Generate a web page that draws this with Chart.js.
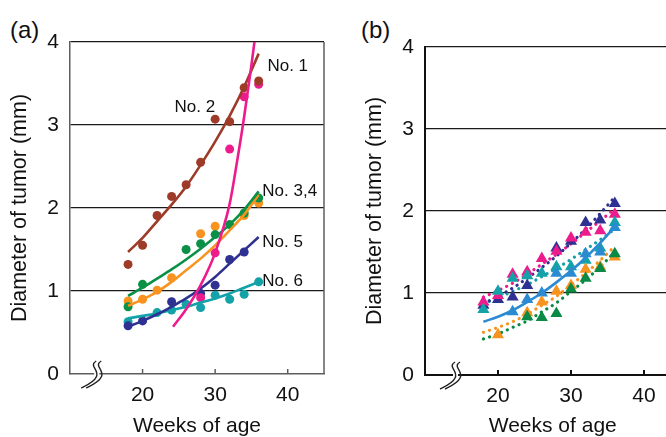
<!DOCTYPE html>
<html>
<head>
<meta charset="utf-8">
<script src="https://cdn.jsdelivr.net/npm/chart.js@4.4.0/dist/chart.umd.min.js"></script>
<style>
  html, body { margin: 0; padding: 0; background: #fff; width: 666px; height: 437px; overflow: hidden; position: relative; }
  canvas { position: absolute; top: 0; }
  #ca { left: 0; }
  #cb { left: 355px; }
  .tag { position: absolute; top: 16px; font: 24px "Liberation Sans", Arial, sans-serif; color: #111; }
</style>
</head>
<body>
<div class="tag" style="left:10px">(a)</div>
<div class="tag" style="left:361px">(b)</div>
<canvas id="ca" width="340" height="437"></canvas>
<canvas id="cb" width="345" height="437"></canvas>
<script>
// weeks of age at which tumors were measured
const weeks = [18, 20, 22, 24, 26, 28, 30, 32, 34, 36];
const xTicks = [20, 30, 40];
const yTicks = [0, 1, 2, 3, 4];

// (a) measured diameters (mm), null = no visible dot
const no1 = [null, null, null, null, null, 0.92, 1.46, 2.71, 3.34, 3.49];
const no2 = [1.32, 1.55, 1.91, 2.14, 2.28, 2.55, 3.07, 3.04, 3.45, 3.53];
const no3 = [0.81, 1.08, null, null, 1.50, 1.57, 1.68, 1.80, 1.94, 2.12];
const no4 = [0.88, 0.90, 1.01, 1.16, null, 1.69, 1.78, null, 1.91, 2.06];
const no5 = [0.58, 0.64, null, 0.87, null, 0.97, 1.07, 1.38, 1.47, null];
const no6 = [0.63, null, 0.74, 0.77, 0.84, 0.80, 0.95, 0.90, 0.96, 1.11];

// (a) fitted curves
const fit1Weeks = [24.2, 26, 28, 30, 32, 33, 34, 35, 36];
const fit1 = [0.57, 0.78, 1.07, 1.46, 2.05, 2.55, 3.1, 3.72, 4.4];
const fit2 = [1.47, 1.64, 1.84, 2.04, 2.26, 2.52, 2.80, 3.11, 3.46, 3.86];
const fit3 = [0.94, 1.04, 1.15, 1.26, 1.38, 1.51, 1.65, 1.80, 1.98, 2.20];
const fit4 = [0.82, 0.90, 0.99, 1.11, 1.25, 1.39, 1.55, 1.73, 1.92, 2.16];
const fit5 = [0.57, 0.64, 0.72, 0.81, 0.91, 1.03, 1.17, 1.33, 1.49, 1.65];
const fit6 = [0.67, 0.70, 0.73, 0.77, 0.81, 0.86, 0.91, 0.97, 1.04, 1.11];

// (b) measured diameters (mm)
const bNavy = [0.85, 0.92, 0.95, 1.09, null, 1.55, 1.63, 1.86, 1.89, 2.09];
const bPink = [0.89, 0.97, 1.23, 1.26, 1.42, 1.51, 1.67, 1.74, 1.76, 1.96];
const bTeal = [0.80, 1.02, 1.18, 1.21, 1.24, 1.32, 1.32, 1.40, 1.55, 1.86];
const bBlue = [null, null, 0.77, 0.92, 1.00, 1.24, 1.24, 1.48, 1.50, 1.80];
const bOrange = [null, 0.49, null, 0.76, 0.89, 1.02, 1.09, 1.29, 1.32, 1.44];
const bGreen = [null, null, null, 0.71, 0.70, 0.75, 1.05, 1.18, 1.30, 1.48];

// (b) fitted curves
const fNavy = [0.87, 0.96, 1.06, 1.18, 1.31, 1.45, 1.61, 1.78, 1.97, 2.17];
const fPink = [0.95, 1.03, 1.12, 1.23, 1.35, 1.47, 1.60, 1.74, 1.88, 2.03];
const fTeal = [0.87, 0.94, 1.02, 1.10, 1.20, 1.30, 1.41, 1.53, 1.65, 1.78];
const fBlue = [0.65, 0.71, 0.79, 0.89, 1.00, 1.13, 1.27, 1.43, 1.61, 1.81];
const fOrange = [0.52, 0.58, 0.65, 0.74, 0.85, 0.96, 1.10, 1.24, 1.40, 1.57];
const fGreen = [0.44, 0.50, 0.58, 0.66, 0.77, 0.88, 1.02, 1.16, 1.32, 1.50];

const FONT = '"Liberation Sans", Arial, sans-serif';

const col = {
  brown: '#9d3a28', pink: '#ec1c8c', green: '#0b9147', orange: '#f7931e',
  navy: '#2e3192', teal: '#13a2a7', blue: '#2b8bd2', dgreen: '#0a8a45'
};

function pts(xs, ys) {
  return xs.map((w, i) => ({ x: w, y: ys[i] })).filter(p => p.y !== null);
}

function dots(ys, c) {
  return { type: 'scatter', data: pts(weeks, ys), showLine: false, pointRadius: 4.5,
    pointBackgroundColor: c, pointBorderWidth: 0, order: 2 };
}
function tris(ys, c) {
  return { type: 'scatter', data: pts(weeks, ys), showLine: false, pointStyle: 'triangle',
    pointRadius: 7, pointBackgroundColor: c, pointBorderWidth: 0, order: 1 };
}
function curve(xs, ys, c) {
  return { type: 'scatter', data: pts(xs, ys), showLine: true, pointRadius: 0, borderColor: c,
    borderWidth: 2.6, cubicInterpolationMode: 'monotone', fill: false, order: 1 };
}
function dotted(ys, c) {
  return { type: 'scatter', data: pts(weeks, ys), showLine: true, pointRadius: 0, borderColor: c,
    borderWidth: 3.2, borderDash: [0.1, 6.3], borderCapStyle: 'round', cubicInterpolationMode: 'monotone',
    fill: false, order: 3 };
}

// inward ticks, right border, axis break mark and curve labels
const decor = {
  id: 'decor',
  afterDraw(chart, args, o) {
    const { ctx, chartArea: a, scales: { x, y } } = chart;
    ctx.save();
    ctx.strokeStyle = o.axisColor;
    ctx.lineWidth = o.axisWidth;
    xTicks.forEach(v => {
      const px = x.getPixelForValue(v);
      ctx.beginPath(); ctx.moveTo(px, a.bottom); ctx.lineTo(px, a.bottom - 5); ctx.stroke();
    });
    if (o.rightBorder) {
      ctx.beginPath(); ctx.moveTo(a.right, a.top); ctx.lineTo(a.right, a.bottom); ctx.stroke();
    }
    // axis break
    const cx = x.getPixelForValue(o.breakAt), by = a.bottom;
    ctx.fillStyle = '#fff';
    ctx.fillRect(cx + 1, by - 2.5, 5, 5);
    ctx.strokeStyle = '#222';
    ctx.lineWidth = 1.4;
    [0, 5].forEach(d => {
      ctx.beginPath();
      ctx.moveTo(cx + 3 + d, by - 13);
      ctx.bezierCurveTo(cx - 5 + d, by - 8, cx + 7 + d, by - 4, cx + 3 + d, by + 3);
      ctx.bezierCurveTo(cx + 1 + d, by + 8, cx - 6 + d, by + 11, cx - 12 + d, by + 14);
      ctx.stroke();
    });
    // labels
    ctx.fillStyle = '#111';
    ctx.font = '17px ' + FONT;
    ctx.textAlign = 'left';
    ctx.textBaseline = 'middle';
    (o.labels || []).forEach(l => ctx.fillText(l.text, x.getPixelForValue(l.x), y.getPixelForValue(l.y)));
    ctx.restore();
  }
};

function makeOptions(pad, xh, axisColor, axisWidth, extra) {
  return {
    responsive: false,
    animation: false,
    devicePixelRatio: 1,
    layout: { padding: pad },
    plugins: { legend: { display: false }, tooltip: { enabled: false }, decor: Object.assign({ axisColor, axisWidth }, extra) },
    scales: {
      x: {
        type: 'linear', min: 10, max: 45,
        afterBuildTicks: s => { s.ticks = xTicks.map(v => ({ value: v })); },
        afterFit: s => { s.height = xh; },
        grid: { display: false, drawTicks: false },
        border: { display: true, color: axisColor, width: axisWidth },
        ticks: { color: '#111', font: { family: FONT, size: 21 }, padding: 9, maxRotation: 0 },
        title: { display: true, text: 'Weeks of age', color: '#111', font: { family: FONT, size: 21, lineHeight: 1 }, padding: { top: 0, bottom: 0 } }
      },
      y: {
        min: 0, max: 4,
        afterBuildTicks: s => { s.ticks = yTicks.map(v => ({ value: v })); },
        afterFit: s => { s.width = 70; },
        grid: { color: ctx => ctx.tick.value === 0 ? 'rgba(0,0,0,0)' : '#1a1a1a', lineWidth: 1.3, drawTicks: false },
        border: { display: true, color: axisColor, width: axisWidth },
        ticks: { color: '#111', font: { family: FONT, size: 21 }, padding: 11 },
        title: { display: true, text: 'Diameter of tumor (mm)', color: '#111', font: { family: FONT, size: 21.5, lineHeight: 1 }, padding: { top: 9, bottom: 0 } }
      }
    }
  };
}

new Chart(document.getElementById('ca'), {
  type: 'scatter',
  data: {
    datasets: [
      curve(fit1Weeks, fit1, col.pink),
      curve(weeks, fit2, col.brown),
      curve(weeks, fit3, col.green),
      curve(weeks, fit4, col.orange),
      curve(weeks, fit5, col.navy),
      curve(weeks, fit6, col.teal),
      dots(no2, col.brown),
      dots(no1, col.pink),
      dots(no3, col.green),
      dots(no4, col.orange),
      dots(no5, col.navy),
      dots(no6, col.teal)
    ]
  },
  options: makeOptions({ left: 0, top: 42, right: 16, bottom: 0 }, 63, '#5e5e5e', 1.5, {
    rightBorder: true, breakAt: 13.2,
    labels: [
      { text: 'No. 1', x: 37.2, y: 3.71 },
      { text: 'No. 2', x: 24.4, y: 3.21 },
      { text: 'No. 3,4', x: 36.5, y: 2.2 },
      { text: 'No. 5', x: 36.5, y: 1.59 },
      { text: 'No. 6', x: 36.5, y: 1.12 }
    ]
  }),
  plugins: [decor]
});

new Chart(document.getElementById('cb'), {
  type: 'scatter',
  data: {
    datasets: [
      dotted(fNavy, col.navy),
      dotted(fPink, col.pink),
      dotted(fTeal, col.teal),
      dotted(fOrange, col.orange),
      dotted(fGreen, col.dgreen),
      curve(weeks, fBlue, col.blue),
      tris(bGreen, col.dgreen),
      tris(bOrange, col.orange),
      tris(bBlue, col.blue),
      tris(bTeal, col.teal),
      tris(bPink, col.pink),
      tris(bNavy, col.navy)
    ]
  },
  options: makeOptions({ left: 0, top: 47, right: 19.5, bottom: 0 }, 62, '#111', 2, {
    rightBorder: true, breakAt: 13.7
  }),
  plugins: [decor]
});
</script>
</body>
</html>
